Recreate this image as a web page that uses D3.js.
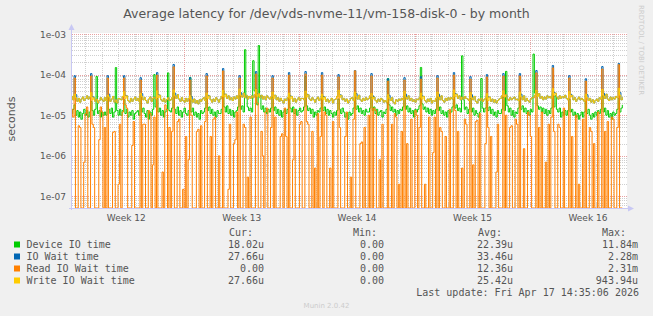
<!DOCTYPE html>
<html><head><meta charset="utf-8">
<script src="https://cdn.jsdelivr.net/npm/d3@7"></script>
<style>body{margin:0;background:#f0f0f0} svg{display:block}</style>
</head><body><svg id="c" width="653" height="316"></svg>
<script>
const title = "Average latency for /dev/vds-nvme-11/vm-158-disk-0 - by month";
const seriesNames = ["Device IO time", "IO Wait time", "Read IO Wait time", "Write IO Wait time"];
const seriesColors = ["#00cc00", "#0066b3", "#ff8000", "#ffcc00"];
// samples every 2 hours starting at this time; values in microseconds
const startTime = Date.UTC(2026, 2, 15, 4, 0);
const stepHours = 2;
const device = [
 11,14,18,10,13,9,12,8,11,14,10,13,
 9,12,22,13,10,14,90,11,13,9,12,10,
 12,10,28,14,11,15,9,12,149,13,10,14,
 10,13,24,11,14,9,12,10,13,8,11,12,
 13,10,30,12,15,11,9,13,8,12,10,14,
 100,16,26,12,15,10,13,9,12,14,110,13,
 12,15,35,14,11,16,10,13,9,12,15,11,
 10,13,85,12,15,10,12,9,11,8,13,11,
 12,15,26,13,16,11,14,10,12,9,13,11,
 11,14,40,16,12,17,11,14,10,13,9,12,
 13,16,30,14,17,12,410,28,16,13,15,12,
 220,40,45,18,520,30,14,17,12,15,11,14,
 12,15,28,13,16,11,14,10,13,9,12,14,
 11,14,32,15,12,16,11,14,10,13,15,12,
 13,16,90,17,13,15,11,14,9,12,10,13,
 12,15,30,13,16,11,14,10,13,11,9,12,
 10,13,25,14,11,15,12,9,11,8,12,10,
 11,15,35,14,17,12,15,11,13,10,14,12,
 12,15,28,13,16,11,14,10,12,13,9,12,
 11,14,80,18,13,16,12,14,10,13,11,14,
 13,16,30,14,17,12,15,11,13,9,14,12,
 14,17,150,19,14,16,12,15,11,14,10,13,
 11,14,28,13,16,11,13,10,12,9,13,11,
 12,16,35,15,18,13,15,12,290,24,14,16,
 11,14,26,12,15,10,13,11,9,12,80,15,
 12,15,30,13,16,11,14,10,12,9,13,11,
 11,14,28,13,120,17,12,15,10,13,9,12,
 11,15,32,14,17,12,15,11,13,10,14,12,
 320,35,40,17,14,16,12,15,11,14,10,13,
 11,15,34,16,30,14,12,15,9,12,10,13,
 10,13,25,12,14,10,12,9,11,8,10,12,
 9,12,22,11,14,10,8,11,9,12,10,13,
 11,14,30,12,15,10,13,9,11,8,12,10,
 11,14,26,12,15,18.02
];
const ioWait = [
 29,24,94,32,22,26,21,25,28,23,26,30,
 25,28,106,29,27,22,25,20,23,27,24,22,
 27,23,94,33,22,25,29,21,24,20,26,25,
 24,29,94,31,30,23,21,26,22,25,28,23,
 26,22,84,34,24,27,23,20,25,28,22,26,
 28,25,112,32,31,24,22,26,21,24,27,23,
 24,27,178,35,26,32,25,22,27,23,21,26,
 22,26,84,29,21,25,20,23,19,24,22,25,
 27,23,106,31,30,24,21,25,22,27,24,21,
 25,29,141,33,33,26,30,24,27,23,28,25,
 30,26,94,36,28,35,27,31,25,29,26,30,
 27,32,119,34,34,27,31,25,29,24,30,27,
 25,28,94,31,31,24,27,22,26,23,20,25,
 23,27,112,30,29,22,26,21,24,27,23,26,
 26,24,119,33,32,25,23,27,24,21,25,28,
 23,26,112,29,28,22,25,21,23,26,20,24,
 25,29,100,32,31,24,26,22,25,20,23,26,
 27,23,126,34,25,31,24,22,26,23,27,24,
 26,30,106,30,28,23,21,25,22,26,24,21,
 23,21,79,31,23,27,21,19,24,22,25,23,
 26,24,84,33,25,30,23,26,22,24,21,25,
 24,27,89,30,29,23,21,25,22,26,20,23,
 22,26,94,33,24,30,23,21,26,23,27,24,
 27,25,112,34,33,26,30,24,28,25,29,26,
 25,23,89,32,24,29,22,20,25,23,26,22,
 24,26,100,28,28,22,25,21,24,20,23,25,
 26,30,106,33,32,25,23,27,24,26,28,24,
 25,23,106,33,24,30,22,26,23,21,25,27,
 27,31,126,34,34,26,29,24,28,25,30,27,
 29,26,168,36,35,28,25,30,26,29,27,31,
 26,24,94,33,31,24,27,22,25,28,24,26,
 24,22,79,32,23,26,21,24,20,23,25,22,
 27,25,158,35,26,33,25,23,28,24,27,25,
 29,27,188,36,24,27.66
];
const readWait = [
 14,9,82,0,0,5.5,5,0,0,0.7,11,16,
 0,0,92,6,5,0,0,0,2.5,16,12,0,
 5,0,82,0,0,0,3.8,4,0,0,0.2,6,
 0,12,82,18,15,0,0,0,1.8,7,0,0,
 0,0,73,0,6,6,0,0,13,11,0,0.6,
 9,0,97,0,0,0,0.4,0,18,14,0,5,
 0,4,155,0,0,7,8,0,0,0.15,0,3,
 0,0.8,73,10,0,0,0,4,4.5,0,5.5,0,
 0,7,92,0,0,3,0,8,9,0,0,1,
 0,0,123,0,0,0,0.15,6,0,0,2,2.5,
 12,0,82,0,0,6,5,0,0.3,0,9,0,
 0,0,103,20,0,0,4,1,0,12,15,0,
 0,5,82,0,9,0,0,0,3,3.5,0,15,
 3,0,97,0,0,0.8,14,0,0,0,6,7,
 0,0,103,7,6,0,0,4,0,0.5,0,11,
 0,3,97,0,12,10,0,0,0.5,0,7,0,
 0,0,87,5,0,0,0,3,12,0,0,0.3,
 0,8,124,0,0,0,2,2.2,0,5,0,0,
 10,0,92,0,15,13,0,0,0.8,0,6,0,
 0,0,69,0,0,6,0,11,9,0,0.2,0,
 4,0,73,0,2,0,0,8,0,0,13,10,
 0,5,77,0,0,0.2,0,0,9,0,0,1.2,
 9,0,82,0,5,4,0,0,3,0,0,14,
 0,0,97,13,0,4,0,0,0.5,0,8,6,
 0,0,77,0,0.6,0,7,7.5,0,11,0,0,
 0,2,87,5,0,3,0,0,0,0.4,6,0,
 0,0,92,0,10,0,0,5,5.5,0,0,8,
 6,0,92,0,0,1.5,0,0,12,10,3,0,
 0,0,110,0,5,0,12,0,0,0.7,0,6,
 0,9,146,4,0,0,6,5,0,0,15,0,
 0,0,82,0,3,0,0,10,0,0.2,0,0,
 8,0,69,0,0,5,4,0,2,0,0,12,
 0,0,137,0,4,0,7,0,0,9,8,0,
 0,5,175,0,0,0
];
const writeWait = [
 29,24,33,27,22,26,21,25,28,23,26,30,
 25,28,36,24,27,22,25,20,23,27,24,22,
 27,23,31,28,22,25,29,21,24,20,26,25,
 24,29,38,26,30,23,21,26,22,25,28,23,
 26,22,34,29,24,27,23,20,25,28,22,26,
 28,25,40,27,31,24,22,26,21,24,27,23,
 24,27,42,30,26,32,25,22,27,23,21,26,
 22,26,30,24,21,25,20,23,19,24,22,25,
 27,23,35,26,30,24,21,25,22,27,24,21,
 25,29,41,28,33,26,30,24,27,23,28,25,
 30,26,44,31,28,35,27,31,25,29,26,30,
 27,32,43,29,34,27,31,25,29,24,30,27,
 25,28,37,26,31,24,27,22,26,23,20,25,
 23,27,35,25,29,22,26,21,24,27,23,26,
 26,24,39,28,32,25,23,27,24,21,25,28,
 23,26,33,24,28,22,25,21,23,26,20,24,
 25,29,41,27,31,24,26,22,25,20,23,26,
 27,23,37,29,25,31,24,22,26,23,27,24,
 26,30,34,25,28,23,21,25,22,26,24,21,
 23,21,32,26,23,27,21,19,24,22,25,23,
 26,24,39,28,25,30,23,26,22,24,21,25,
 24,27,35,25,29,23,21,25,22,26,20,23,
 22,26,37,28,24,30,23,21,26,23,27,24,
 27,25,42,29,33,26,30,24,28,25,29,26,
 25,23,36,27,24,29,22,20,25,23,26,22,
 24,26,34,23,28,22,25,21,24,20,23,25,
 26,30,40,28,32,25,23,27,24,26,28,24,
 25,23,37,28,24,30,22,26,23,21,25,27,
 27,31,41,29,34,26,29,24,28,25,30,27,
 29,26,45,31,35,28,25,30,26,29,27,31,
 26,24,38,28,31,24,27,22,25,28,24,26,
 24,22,33,27,23,26,21,24,20,23,25,22,
 27,25,43,30,26,33,25,23,28,24,27,25,
 29,27,46,31,24,27.66
];
const yTickValues = [1e-3, 1e-4, 1e-5, 1e-6, 1e-7];
const yTickLabels = ["1e-03", "1e-04", "1e-05", "1e-06", "1e-07"];
const weekLabels = ["Week 12", "Week 13", "Week 14", "Week 15", "Week 16"];
const weekLabelTimes = [Date.UTC(2026,2,18,12), Date.UTC(2026,2,25,12), Date.UTC(2026,3,1,12), Date.UTC(2026,3,8,12), Date.UTC(2026,3,15,12)];
const statHeaders = ["Cur:", "Min:", "Avg:", "Max:"];
const statCur = ["18.02u", "27.66u", "0.00", "27.66u"];
const statMin = ["0.00", "0.00", "0.00", "0.00"];
const statAvg = ["22.39u", "33.46u", "12.36u", "25.42u"];
const statMax = ["11.84m", "2.28m", "2.31m", "943.94u"];
const lastUpdate = "Last update: Fri Apr 17 14:35:06 2026";

const svg = d3.select("#c");
const W = 653, H = 316;
const pL = 72, pR = 627, pT = 34, pB = 208;
const x = d3.scaleUtc().domain([new Date(Date.UTC(2026,2,15,5,0)), new Date(Date.UTC(2026,3,17,20,50))]).range([pL, pR]);
const y = d3.scaleLog().domain([5.2e-8, 1e-3]).range([pB, pT]);

svg.append("rect").attr("width", W).attr("height", H).attr("fill", "#f0f0f0");
svg.append("rect").attr("x", pL).attr("y", pT - 1).attr("width", pR - pL).attr("height", pB - pT + 1).attr("fill", "#ffffff");

const grid = svg.append("g").attr("shape-rendering", "crispEdges");
const yMinor = [];
for (let e = -8; e <= -3; e++) for (let m = 1; m <= 9; m++) {
  const v = m * Math.pow(10, e);
  if (v >= y.domain()[0] && v <= y.domain()[1] * 1.0001) yMinor.push({v, major: m === 1});
}
grid.selectAll("line.h").data(yMinor).join("line")
  .attr("x1", pL).attr("x2", pR)
  .attr("y1", d => Math.round(y(d.v)) + 0.5).attr("y2", d => Math.round(y(d.v)) + 0.5)
  .attr("stroke", d => d.major ? "#e8a0a0" : "#cfcfcf")
  .attr("stroke-dasharray", "1,1");
const days = d3.utcDay.range(x.domain()[0], x.domain()[1]);
grid.selectAll("line.v").data(days).join("line")
  .attr("x1", d => Math.round(x(d)) + 0.5).attr("x2", d => Math.round(x(d)) + 0.5)
  .attr("y1", pT).attr("y2", pB)
  .attr("stroke", d => d.getUTCDay() === 0 ? "#e8a0a0" : "#cfcfcf")
  .attr("stroke-dasharray", "1,1");

const series = [device, ioWait, readWait, writeWait];
svg.append("clipPath").attr("id", "pc").append("rect")
  .attr("x", pL).attr("y", pT - 1).attr("width", pR - pL).attr("height", pB - pT + 1);
const line = d3.line()
  .x((d, i) => x(new Date(startTime + i * stepHours * 3600e3)))
  .y(d => y(Math.max(d * 1e-6, y.domain()[0])))
  .curve(d3.curveStepAfter);
const lines = svg.append("g").attr("clip-path", "url(#pc)");
series.forEach((s, k) => {
  lines.append("path").attr("d", line(s)).attr("fill", "none")
    .attr("stroke", seriesColors[k]).attr("stroke-width", 1);
});

const axisColor = "#c8c8f4";
svg.append("line").attr("x1", pL - 0.5).attr("x2", pL - 0.5).attr("y1", pB + 2).attr("y2", pT - 5).attr("stroke", axisColor);
svg.append("line").attr("x1", pL - 3).attr("x2", pR + 2).attr("y1", pB + 0.5).attr("y2", pB + 0.5).attr("stroke", axisColor);
svg.append("path").attr("d", `M${pL - 3.5},${pT - 4} L${pL - 0.5},${pT - 10} L${pL + 2.5},${pT - 4} Z`).attr("fill", axisColor);
svg.append("path").attr("d", `M${pR + 1},${pB - 2.5} L${pR + 7},${pB + 0.5} L${pR + 1},${pB + 3.5} Z`).attr("fill", axisColor);

const txt = "#555555";
const sans = "DejaVu Sans, sans-serif";
const mono = "DejaVu Sans Mono, monospace";
svg.selectAll("text.yt").data(yTickValues).join("text")
  .attr("x", 66).attr("y", d => y(d) + 3.5).attr("text-anchor", "end")
  .attr("font-family", sans).attr("font-size", 9).attr("fill", txt)
  .text((d, i) => yTickLabels[i]);
svg.selectAll("text.xt").data(weekLabelTimes).join("text")
  .attr("x", d => x(new Date(d))).attr("y", 220.5).attr("text-anchor", "middle")
  .attr("font-family", sans).attr("font-size", 9).attr("fill", txt)
  .text((d, i) => weekLabels[i]);

svg.append("text").attr("x", 326.5).attr("y", 17.5).attr("text-anchor", "middle")
  .attr("font-family", sans).attr("font-size", 12.5).attr("fill", txt).text(title);
svg.append("text").attr("transform", "translate(15,119) rotate(-90)").attr("text-anchor", "middle")
  .attr("font-family", sans).attr("font-size", 11).attr("fill", txt).text("seconds");
svg.append("text").attr("transform", "translate(639,5) rotate(90)").attr("text-anchor", "start")
  .attr("font-family", sans).attr("font-size", 7).attr("fill", "#cccccc").text("RRDTOOL / TOBI OETIKER");
svg.append("text").attr("x", 326.5).attr("y", 307.5).attr("text-anchor", "middle")
  .attr("font-family", sans).attr("font-size", 7).attr("fill", "#cccccc").text("Munin 2.0.42");

const hdrX = [229, 353, 478, 602];
const valX = [264, 384, 513, 638];
const stats = [statCur, statMin, statAvg, statMax];
svg.selectAll("text.hd").data(statHeaders).join("text")
  .attr("x", (d, i) => hdrX[i]).attr("y", 236)
  .attr("font-family", mono).attr("font-size", 10).attr("fill", txt).text(d => d);
seriesNames.forEach((n, r) => {
  const yy = 248 + r * 12;
  svg.append("rect").attr("x", 14).attr("y", yy - 6.5).attr("width", 6).attr("height", 6).attr("fill", seriesColors[r]);
  svg.append("text").attr("x", 26.5).attr("y", yy).attr("font-family", mono).attr("font-size", 10).attr("fill", txt).text(n);
  stats.forEach((s, c) => {
    svg.append("text").attr("x", valX[c]).attr("y", yy).attr("text-anchor", "end")
      .attr("font-family", mono).attr("font-size", 10).attr("fill", txt).text(s[r]);
  });
});
svg.append("text").attr("x", 639).attr("y", 295.5).attr("text-anchor", "end")
  .attr("font-family", mono).attr("font-size", 10).attr("fill", txt).text(lastUpdate);
</script></body></html>
